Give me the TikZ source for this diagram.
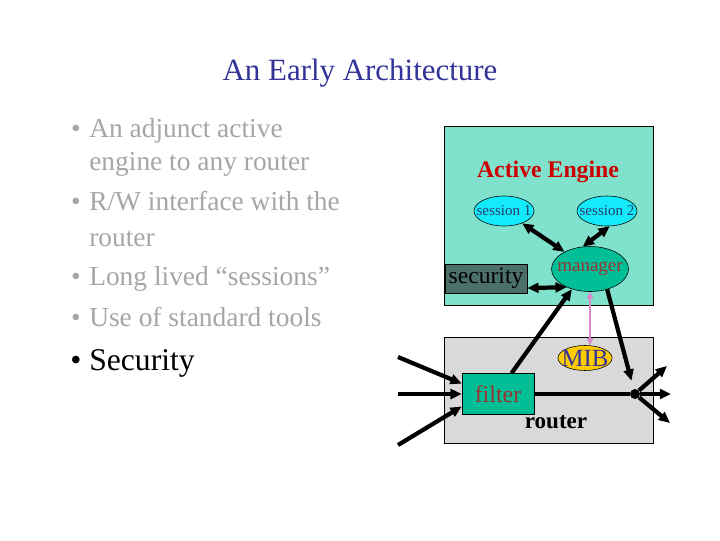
\documentclass[tikz,border=0pt]{standalone}
\usepackage{fontspec}
\setmainfont{Liberation Serif}
\usetikzlibrary{arrows.meta, positioning, shapes.geometric}
\definecolor{TB}{RGB}{51,51,153}
\definecolor{GT}{RGB}{166,166,166}
\definecolor{AQ}{RGB}{128,226,204}
\definecolor{TG}{RGB}{0,190,150}
\definecolor{CY}{RGB}{20,235,250}
\definecolor{SL}{RGB}{74,112,104}
\definecolor{LG}{RGB}{217,217,217}
\definecolor{GD}{RGB}{255,204,0}
\definecolor{RD}{RGB}{204,0,0}
\definecolor{BR}{RGB}{153,51,51}
\definecolor{NV}{RGB}{40,60,110}
\definecolor{PK}{RGB}{214,140,200}

\begin{document}
\begin{tikzpicture}[x=0.025cm, y=-0.025cm,
  item/.style={anchor=base west, text=GT, inner sep=0pt,
               font=\fontsize{19.5}{22}\selectfont},
  bul/.style={anchor=base, text=GT, inner sep=0pt,
              font=\fontsize{19.5}{22}\selectfont},
  panel/.style={draw, line width=0.6pt, fill=#1, anchor=north west,
                minimum width=5.225cm, inner sep=0pt},
  oval/.style={ellipse, draw, fill=#1, inner sep=0pt},
  blk/.style={draw, fill=#1, inner sep=0pt},
  arr/.style={-{Triangle[length=8pt,width=7pt]}, line width=3pt},
  arrs/.style={{Triangle[length=8pt,width=7pt]}-{Triangle[length=8pt,width=7pt]},
               line width=3pt},
  pinkarr/.style={{Triangle[length=5pt,width=4.5pt]}-{Triangle[length=5pt,width=4.5pt]},
                  line width=1.3pt, draw=PK}
]
\useasboundingbox (0,0) rectangle (720,540);
\fill[white] (0,0) rectangle (720,540);

\node[anchor=base, text=TB, font=\fontsize{22}{26}\selectfont] (title) at (360,80)
  {An Early Architecture};

% Bullet list
\node[bul] (d1) at (76,137.7) {\textbullet};
\node[item] (t1) at (89,137.7) {An adjunct active};
\node[item] (t1b) at (89,170) {engine to any router};
\node[bul] (d2) at (76,210) {\textbullet};
\node[item] (t2) at (89,210) {R/W interface with the};
\node[item] (t2b) at (89,246) {router};
\node[bul] (d3) at (76,285) {\textbullet};
\node[item] (t3) at (89,285) {Long lived “sessions”};
\node[bul] (d4) at (76,326) {\textbullet};
\node[item] (t4) at (89,326) {Use of standard tools};
\node[bul, text=black, font=\fontsize{22.5}{26}\selectfont] (d5) at (76,370) {\textbullet};
\node[item, text=black, font=\fontsize{22.5}{26}\selectfont] (t5) at (89,370) {Security};

% Active engine
\node[panel=AQ, minimum height=4.475cm] (eng) at (444,126) {};
\node[anchor=base, text=RD, font=\fontsize{16.9}{20}\selectfont\bfseries] (engl) at (548,177)
  {Active Engine};
\node[oval=CY, minimum width=1.5cm, minimum height=0.75cm, inner xsep=-4.5pt,
      text=NV, font=\fontsize{10.7}{12}\selectfont] (s1) at (504,211) {session 1};
\node[oval=CY, minimum width=1.5cm, minimum height=0.75cm, inner xsep=-4.5pt,
      text=NV, font=\fontsize{10.7}{12}\selectfont] (s2) at (607,211) {session 2};
\node[oval=TG, minimum width=1.925cm, minimum height=1.125cm, inner xsep=-4pt,
      text=BR, font=\fontsize{13.5}{15}\selectfont] (mgr) at (590,269) {manager};
\node[blk=SL, minimum width=2.05cm, minimum height=0.725cm,
      font=\fontsize{16.8}{19}\selectfont] (sec) at (486,278.5) {security};

% Router
\node[panel=LG, minimum height=2.65cm] (rtr) at (444,337) {};
\node[oval=GD, minimum width=1.35cm, minimum height=0.625cm, inner xsep=-3pt,
      text=TB, font=\fontsize{17.6}{20}\selectfont] (mib) at (585,358) {MIB};
\node[blk=TG, minimum width=1.8cm, minimum height=1.025cm,
      text=BR, font=\fontsize{17}{19}\selectfont] (flt) at (498,394) {filter};
\node[anchor=base, font=\fontsize{16.4}{19}\selectfont\bfseries] (rtrl) at (556,428) {router};
\node[circle, fill, inner sep=0pt, minimum size=0.25cm] (dot) at (635,394) {};

\coordinate (in1) at (398,357);
\coordinate (in2) at (398,394);
\coordinate (in3) at (398,445);
\coordinate (out1) at (667,366);
\coordinate (out2) at (671,394);
\coordinate (out3) at (670,423);

\draw[arrs] (s1) -- (mgr);
\draw[arrs] (s2.-80) -- (mgr.108);
\draw[arrs] (sec.-13) -- (mgr.218);
\draw[arr] (flt.57) -- (mgr.228);
\draw[pinkarr] (mgr.south) -- (mgr.south |- mib.north);
\draw[arr, shorten >=6pt] (mgr.-50) -- (dot);

\draw[arr] (in1) -- (flt.164);
\draw[arr] (in2) -- (flt.west);
\draw[arr] (in3) -- (flt.199);
\draw[line width=3pt] (flt.east) -- (dot);
\draw[arr] (dot) -- (out1);
\draw[arr] (dot) -- (out2);
\draw[arr] (dot) -- (out3);
\end{tikzpicture}
\end{document}
